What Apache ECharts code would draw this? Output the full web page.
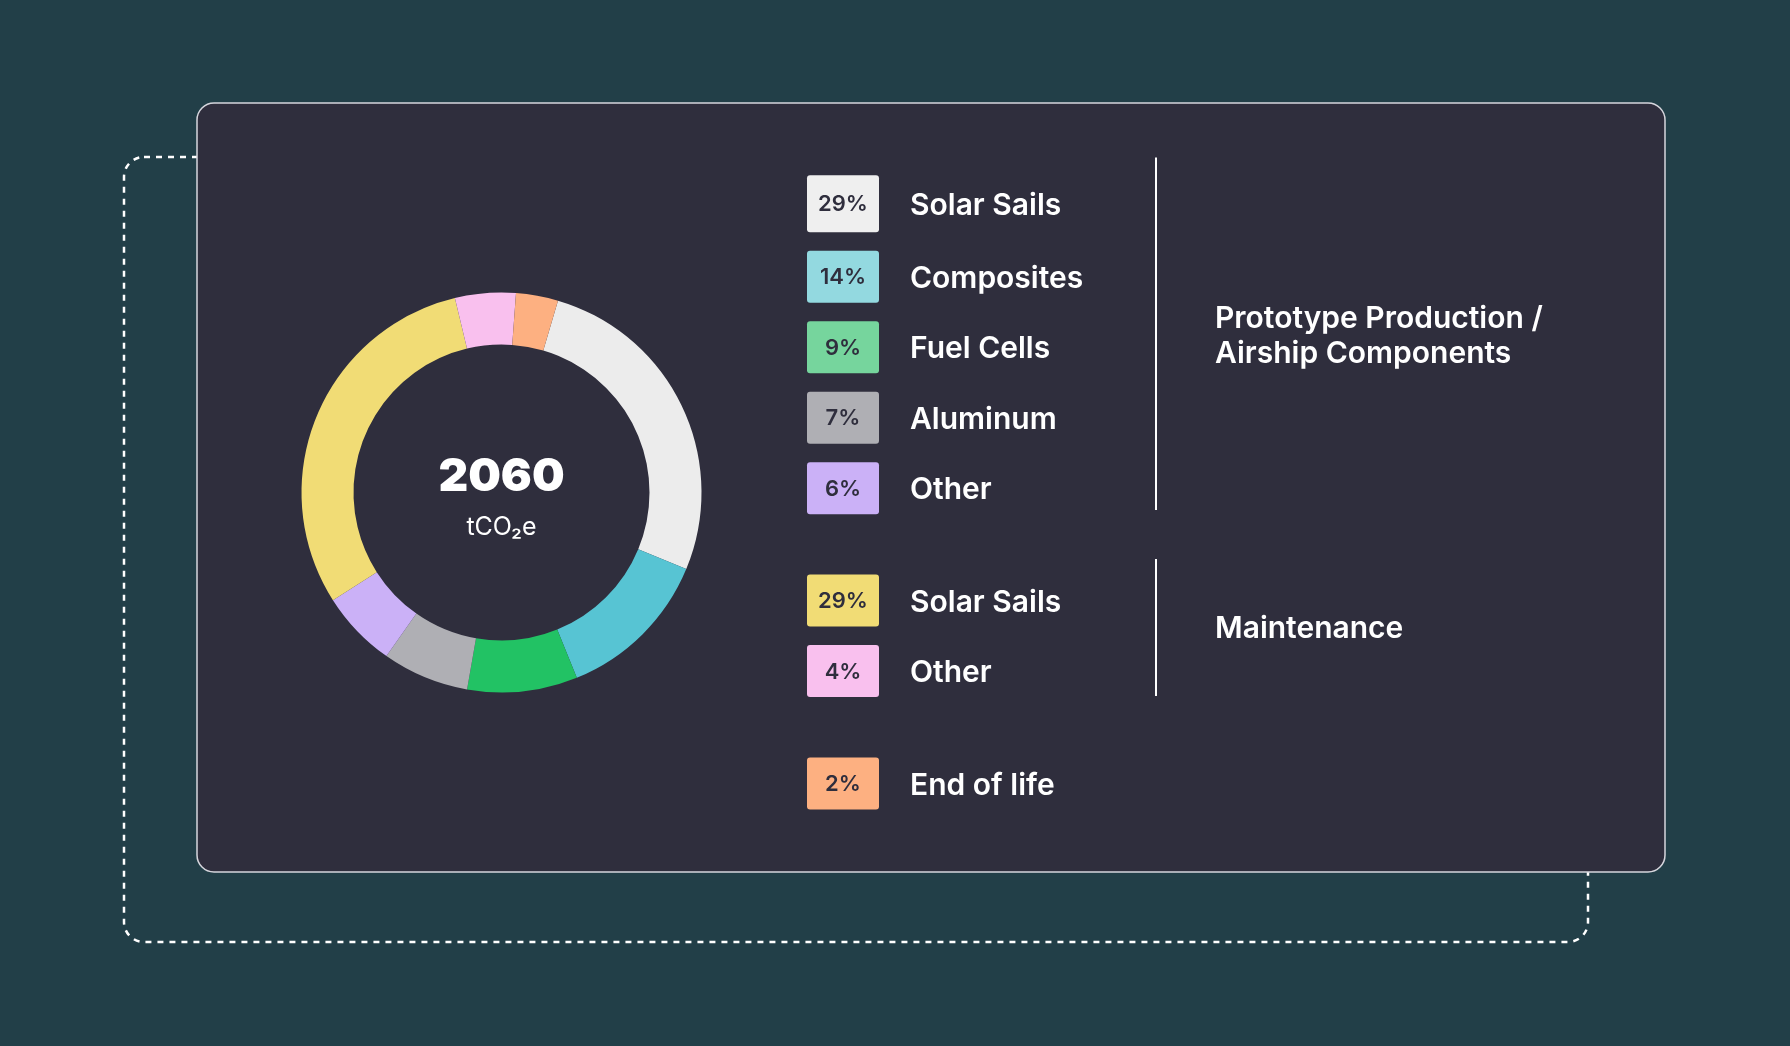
<!DOCTYPE html>
<html>
<head>
<meta charset="utf-8">
<script src="https://cdn.jsdelivr.net/npm/echarts@6/dist/echarts.min.js"></script>
<style>
html,body{margin:0;padding:0;background:#223f48;}
#chart{width:1790px;height:1046px;}
</style>
</head>
<body>
<div id="chart"></div>
<script>
// ---- data ----
const categories = ['Solar Sails', 'Composites', 'Fuel Cells', 'Aluminum', 'Other', 'Solar Sails', 'Other', 'End of life'];
const sliceValues = [26.7, 12.6, 8.9, 7.0, 6.2, 30.3, 4.9, 3.4];
const pctLabels = ['29%', '14%', '9%', '7%', '6%', '29%', '4%', '2%'];
const sliceColors = ['#ececec', '#57c4d3', '#22c264', '#afafb4', '#cbb1f7', '#f1dc75', '#f9c0ee', '#fdb081'];
const swatchColors = ['#efefef', '#93d9e0', '#76d59d', '#afafb4', '#cbb1f7', '#f1dc75', '#f9c0ee', '#fdb081'];
const groupLabels = ['Prototype Production /\nAirship Components', 'Maintenance'];
const totalLabel = '2060';
const unitLabel = 'tCO₂e';

// ---- layout ----
const FONT = 'Inter, "Open Sans", sans-serif';
const rowCenters = [203.7, 276.7, 347.3, 417.7, 488.3, 600.5, 671, 783.5];
const swatchH = [57, 52, 52, 52, 52, 52, 52, 52];
const swatchX = 807, swatchW = 72, nameX = 910;

const graphics = [];
// dashed outline behind the card
graphics.push({
  type: 'rect', z: -20,
  shape: { x: 124, y: 157, width: 1464, height: 785, r: 20 },
  style: { fill: 'none', stroke: '#ffffff', lineWidth: 2.5, lineDash: [6, 6] }
});
// card
graphics.push({
  type: 'rect', z: -10,
  shape: { x: 197, y: 103, width: 1468, height: 769, r: 17 },
  style: { fill: '#2f2e3d', stroke: '#d6d6dd', lineWidth: 1.5 }
});
// legend rows
categories.forEach((name, i) => {
  const cy = rowCenters[i], h = swatchH[i];
  graphics.push({
    type: 'rect', z: 5,
    shape: { x: swatchX, y: cy - h / 2, width: swatchW, height: h, r: 3 },
    style: { fill: swatchColors[i] }
  });
  graphics.push({
    type: 'text', z: 6, x: swatchX + swatchW / 2, y: cy + 1,
    style: { text: pctLabels[i], fill: '#2f2e3d', font: '600 22px ' + FONT, align: 'center', verticalAlign: 'middle' }
  });
  graphics.push({
    type: 'text', z: 6, x: nameX, y: cy + 2,
    style: { text: name, fill: '#ffffff', font: '600 30px ' + FONT, align: 'left', verticalAlign: 'middle' }
  });
});
// group separators
graphics.push({ type: 'line', z: 5, shape: { x1: 1156, y1: 157.5, x2: 1156, y2: 510 }, style: { stroke: '#ffffff', lineWidth: 2 } });
graphics.push({ type: 'line', z: 5, shape: { x1: 1156, y1: 559, x2: 1156, y2: 696 }, style: { stroke: '#ffffff', lineWidth: 2 } });
// group labels
graphics.push({
  type: 'text', z: 6, x: 1215, y: 336,
  style: { text: groupLabels[0], fill: '#ffffff', font: '600 30px ' + FONT, lineHeight: 35, align: 'left', verticalAlign: 'middle' }
});
graphics.push({
  type: 'text', z: 6, x: 1215, y: 629,
  style: { text: groupLabels[1], fill: '#ffffff', font: '600 30px ' + FONT, align: 'left', verticalAlign: 'middle' }
});
// center labels
graphics.push({
  type: 'text', z: 6, x: 501.5, y: 477,
  style: { text: totalLabel, fill: '#ffffff', font: '900 46px ' + FONT, align: 'center', verticalAlign: 'middle' }
});
graphics.push({
  type: 'text', z: 6, x: 501.5, y: 527,
  style: { text: unitLabel, fill: '#ffffff', font: '400 25px ' + FONT, align: 'center', verticalAlign: 'middle' }
});

const chart = echarts.init(document.getElementById('chart'), null, { renderer: 'canvas' });
chart.setOption({
  backgroundColor: '#223f48',
  animation: false,
  graphic: { elements: graphics },
  series: [{
    type: 'pie',
    z: 10,
    center: [501.5, 492.5],
    radius: [148, 200],
    startAngle: 73.6,
    clockwise: true,
    label: { show: false },
    labelLine: { show: false },
    emphasis: { disabled: true },
    itemStyle: { borderWidth: 0 },
    data: categories.map((n, i) => ({ name: n + ' ' + i, value: sliceValues[i], itemStyle: { color: sliceColors[i] } }))
  }]
});
</script>
</body>
</html>
